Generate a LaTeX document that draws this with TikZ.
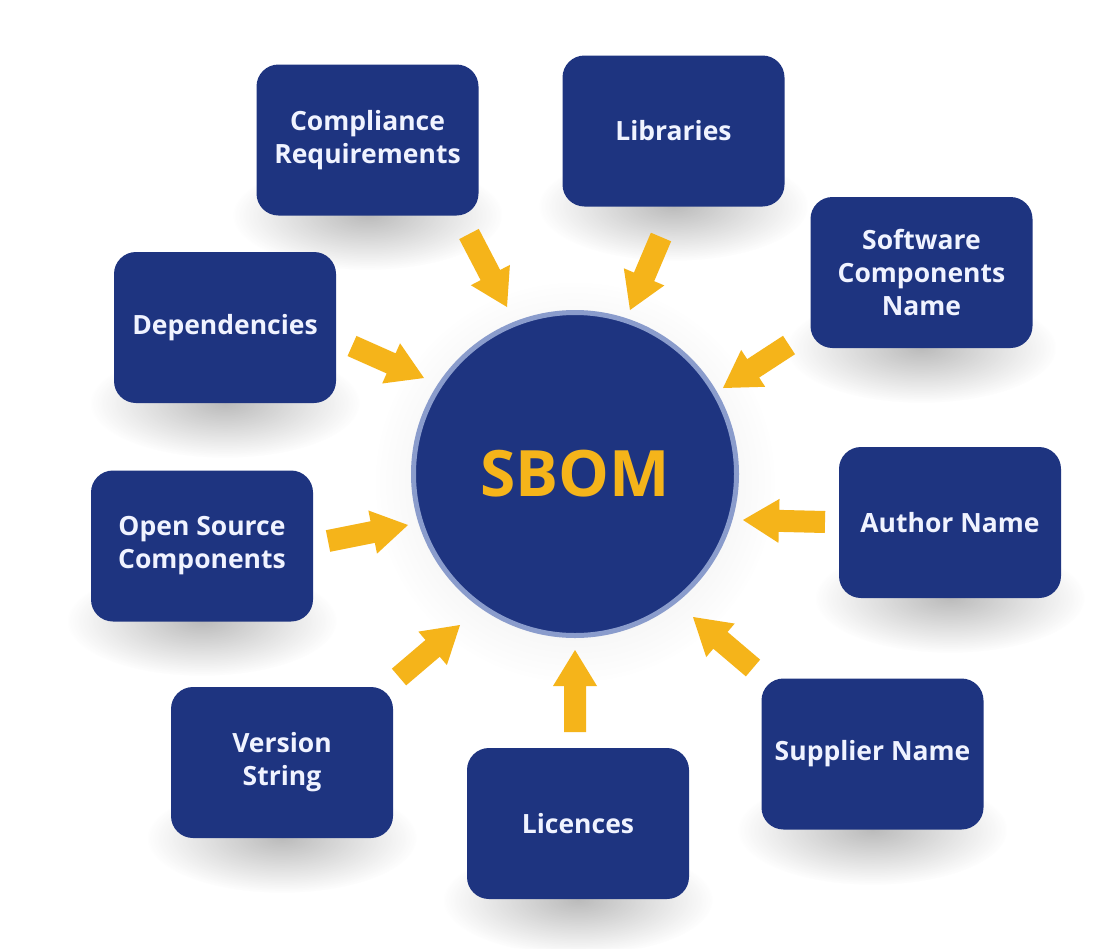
\documentclass[tikz,border=0pt]{standalone}
\usepackage{fontspec}
\setmainfont{Open Sans}
\usetikzlibrary{calc,fadings}
\definecolor{navy}{HTML}{1E3480}
\definecolor{ring}{HTML}{8A9CCC}
\definecolor{amber}{HTML}{F5B41A}
\definecolor{boxtext}{HTML}{F0F3FF}
\tikzfading[name=softfade, inner color=transparent!62, outer color=transparent!100]
\tikzset{
  itembox/.style={fill=navy, rounded corners=22pt, minimum width=222pt, minimum height=151pt,
    text=boxtext, font=\bfseries\fontsize{26.5}{33}\selectfont, align=center, inner sep=0pt},
  shadowblob/.style={fill=black!70, path fading=softfade},
  blockarrow/.style={fill=amber},
}
\newcommand\blockarr[2]{%
  \coordinate (neckpt) at ($(#2)!36pt!(#1)$);
  \fill[blockarrow] ($(#1)!11pt!90:(#2)$) -- ($(neckpt)!11pt!90:(#2)$) -- ($(neckpt)!22pt!90:(#2)$)
    -- (#2) -- ($(neckpt)!22pt!-90:(#2)$) -- ($(neckpt)!11pt!-90:(#2)$) -- ($(#1)!11pt!-90:(#2)$) -- cycle;}
\begin{document}
\begin{tikzpicture}[x=1pt,y=-1pt]
\useasboundingbox (0,0) rectangle (1116,948);
\fill[white] (0,0) rectangle (1116,948);
% shadows
\foreach \cx/\by in {367.5/215, 673.5/206, 921.5/348, 225/403, 202/621, 950/598, 282/838, 578/900, 872.5/830}{
  \fill[shadowblob] (\cx,\by) ellipse [x radius=135pt, y radius=55pt];
}
\fill[black!35, path fading=softfade] (575,482) circle [radius=200pt];
% boxes
\node[itembox] (comp) at (367.5,140) {Compliance\\Requirements};
\node[itembox] (lib) at (673.5,131) {Libraries};
\node[itembox] (soft) at (921.5,272.5) {Software\\Components\\Name};
\node[itembox] (dep) at (225,327.5) {Dependencies};
\node[itembox] (oss) at (202,546) {Open Source\\Components};
\node[itembox] (auth) at (950,522.5) {Author Name};
\node[itembox] (ver) at (282,762.5) {Version\\String};
\node[itembox] (lic) at (578,823.5) {Licences};
\node[itembox] (sup) at (872.5,754) {Supplier Name};
% centre
\node[circle, fill=navy, draw=ring, line width=5pt, minimum size=323pt, inner sep=0pt,
  text=amber, font=\bfseries\fontsize{64}{64}\selectfont] (sbom) at (575,474) {SBOM};
% arrow ends
\coordinate (t1) at (469,234); \coordinate (h1) at (507,307);
\coordinate (t2) at (661,237); \coordinate (h2) at (630,310);
\coordinate (t3) at (789,345); \coordinate (h3) at (723,388);
\coordinate (t4) at (352,346); \coordinate (h4) at (424,378);
\coordinate (t5) at (328,541); \coordinate (h5) at (408,525);
\coordinate (t6) at (825,522); \coordinate (h6) at (743,520);
\coordinate (t7) at (753,668); \coordinate (h7) at (693,617);
\coordinate (t8) at (575,732); \coordinate (h8) at (575,650);
\coordinate (t9) at (399,677); \coordinate (h9) at (460,625);
\blockarr{t1}{h1}
\blockarr{t2}{h2}
\blockarr{t3}{h3}
\blockarr{t4}{h4}
\blockarr{t5}{h5}
\blockarr{t6}{h6}
\blockarr{t7}{h7}
\blockarr{t8}{h8}
\blockarr{t9}{h9}
\end{tikzpicture}
\end{document}
